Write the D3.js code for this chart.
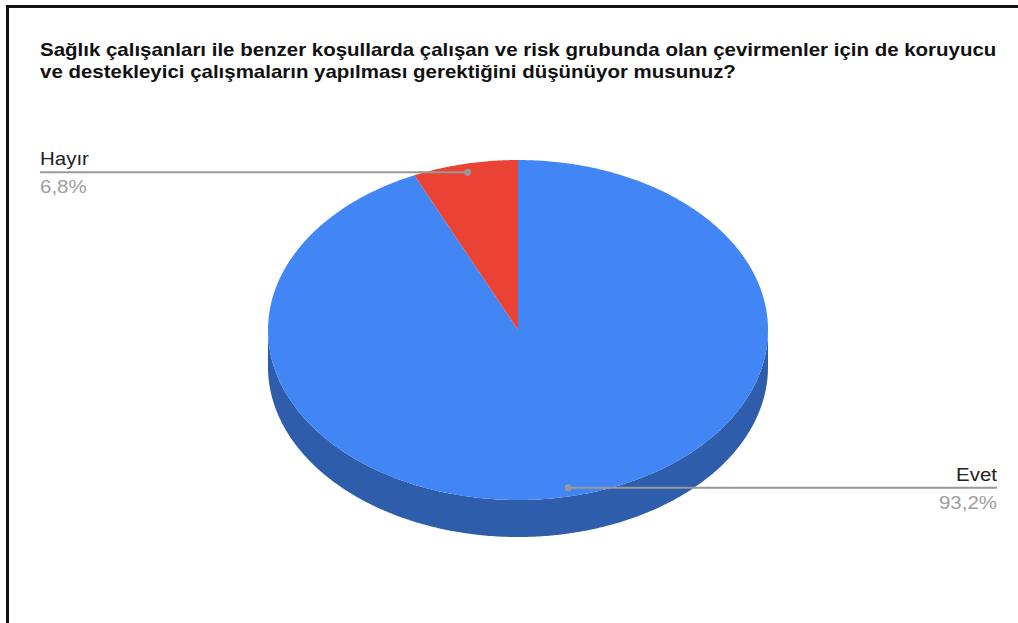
<!DOCTYPE html>
<html>
<head>
<meta charset="utf-8">
<script src="https://cdn.jsdelivr.net/npm/d3@7"></script>
<style>
  html, body { margin: 0; padding: 0; background: #fff; }
  svg { display: block; }
</style>
</head>
<body>
<svg id="chart" width="1018" height="623"></svg>
<script>
// Survey answers and their shares (percent)
const categories = ["Evet", "Hayır"];
const values = [93.2, 6.8];
const valueLabels = ["93,2%", "6,8%"];
const titleLines = [
  "Sağlık çalışanları ile benzer koşullarda çalışan ve risk grubunda olan çevirmenler için de koruyucu",
  "ve destekleyici çalışmaların yapılması gerektiğini düşünüyor musunuz?"
];

const W = 1018, H = 623;
const stretchX = 1.17; // text is drawn slightly wide
const svg = d3.select("#chart");

// Frame (left and top rules)
svg.append("line").attr("x1", 7.5).attr("x2", 7.5).attr("y1", 5).attr("y2", H)
  .attr("stroke", "#111").attr("stroke-width", 3);
svg.append("line").attr("x1", 6).attr("x2", W).attr("y1", 6.5).attr("y2", 6.5)
  .attr("stroke", "#111").attr("stroke-width", 3);

// Title
titleLines.forEach((t, i) => {
  svg.append("text")
    .attr("transform", `translate(40,${56 + i * 22}) scale(${stretchX},1)`)
    .attr("font-family", "'Liberation Sans', Arial, sans-serif")
    .attr("font-size", 17.5).attr("font-weight", "bold").attr("fill", "#111")
    .text(t);
});

// 3D pie geometry
const cx = 518, cy = 330, rx = 250, ry = 170, depth = 37;
const topColors = d3.scaleOrdinal().domain(categories).range(["#4285f4", "#ea4335"]);
const sideColors = d3.scaleOrdinal().domain(categories).range(["#2e5dab", "#a52f25"]);

const pie = d3.pie().sort(null).value(d => d.value);
const arcs = pie(categories.map((c, i) => ({ name: c, value: values[i], label: valueLabels[i] })));

// angle measured clockwise from 12 o'clock
const px = (a, f = 1) => cx + rx * f * Math.sin(a);
const py = (a, f = 1) => cy - ry * f * Math.cos(a);
const sampleAngles = (a0, a1) => {
  const n = Math.max(2, Math.ceil((a1 - a0) / 0.01));
  return d3.range(n + 1).map(i => a0 + (a1 - a0) * i / n);
};
const line = d3.line();

const g = svg.append("g");

// Side walls: only the front half (angles between π/2 and 3π/2) is visible
arcs.forEach(d => {
  const a0 = Math.max(d.startAngle, Math.PI / 2);
  const a1 = Math.min(d.endAngle, 3 * Math.PI / 2);
  if (a1 <= a0) return;
  const angs = sampleAngles(a0, a1);
  const top = angs.map(a => [px(a), py(a)]);
  const bottom = angs.slice().reverse().map(a => [px(a), py(a) + depth]);
  g.append("path")
    .attr("d", line(top.concat(bottom)) + "Z")
    .attr("fill", sideColors(d.data.name));
});

// Top faces
arcs.forEach(d => {
  const pts = [[cx, cy]].concat(sampleAngles(d.startAngle, d.endAngle).map(a => [px(a), py(a)]));
  g.append("path")
    .attr("d", line(pts) + "Z")
    .attr("fill", topColors(d.data.name));
});

// Leader lines and labels
const labelFont = "'Liberation Sans', Arial, sans-serif";
arcs.forEach(d => {
  const mid = (d.startAngle + d.endAngle) / 2;
  const dx = px(mid, 0.95), dy = py(mid, 0.95);
  const leftSide = Math.sin(mid) < 0;
  const endX = leftSide ? 40 : 997;
  svg.append("line")
    .attr("x1", dx).attr("y1", dy).attr("x2", endX).attr("y2", dy)
    .attr("stroke", "#999").attr("stroke-width", 2);
  svg.append("circle").attr("cx", dx).attr("cy", dy).attr("r", 3.5).attr("fill", "#999");
  const anchor = leftSide ? "start" : "end";
  svg.append("text")
    .attr("transform", `translate(${endX},${dy - 7}) scale(${stretchX},1)`)
    .attr("text-anchor", anchor)
    .attr("font-family", labelFont).attr("font-size", 17.5)
    .attr("fill", "#222").text(d.data.name);
  svg.append("text")
    .attr("transform", `translate(${endX},${dy + 21}) scale(${stretchX},1)`)
    .attr("text-anchor", anchor)
    .attr("font-family", labelFont).attr("font-size", 17.5)
    .attr("fill", "#9e9e9e").text(d.data.label);
});
</script>
</body>
</html>
